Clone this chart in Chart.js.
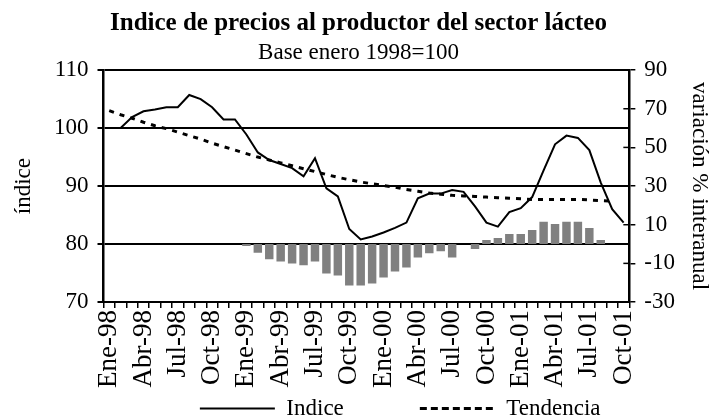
<!DOCTYPE html>
<html>
<head>
<meta charset="utf-8">
<script src="https://cdn.jsdelivr.net/npm/chart.js@4"></script>
<style>
  body { margin: 0; background: #fff; }
  #wrap { width: 711px; height: 417px; }
</style>
</head>
<body>
<div id="wrap"><canvas id="chart" width="711" height="417"></canvas></div>
<script>
// months Ene-98 .. Oct-01
const months = ["Ene", "Feb", "Mar", "Abr", "May", "Jun", "Jul", "Ago", "Sep", "Oct", "Nov", "Dic"];
const years = ["98", "99", "00", "01"];
const labels = [];
for (let y = 0; y < years.length; y++) {
  for (let m = 0; m < 12; m++) {
    if (y === 3 && m > 9) break;
    labels.push(months[m] + "-" + years[y]);
  }
}

// indice (left axis)
const indice = [
  100.0, 100.0, 101.9, 102.9, 103.2, 103.6, 103.6, 105.7, 105.0, 103.6, 101.5, 101.5,
  98.9, 95.8, 94.5, 93.8, 93.1, 91.7, 94.8, 89.6, 88.2, 82.6, 80.8, 81.3,
  82.0, 82.8, 83.7, 87.9, 88.7, 88.7, 89.3, 89.0, 86.5, 83.7, 83.0, 85.5,
  86.2, 88.1, 92.7, 97.2, 98.7, 98.3, 96.2, 90.6, 86.0, 83.7
];

// tendencia (left axis)
const tendencia = [
  103.0, 102.3, 101.7, 101.0, 100.4, 99.9, 99.3, 98.7, 98.1, 97.4, 96.8, 96.2,
  95.6, 95.0, 94.5, 94.0, 93.5, 93.0, 92.5, 92.0, 91.5, 91.1, 90.7, 90.4,
  90.1, 89.8, 89.4, 89.1, 88.8, 88.6, 88.4, 88.3, 88.2, 88.1, 88.0, 87.9,
  87.8, 87.7, 87.7, 87.7, 87.7, 87.7, 87.6, 87.5, 87.4, null
];

// variacion % interanual (right axis)
const variacion = [
  null, null, null, null, null, null, null, null, null, null, null, null,
  -1.0, -4.5, -7.9, -9.0, -10.0, -11.0, -9.0, -15.2, -16.3, -21.5, -21.5, -20.4,
  -17.3, -14.2, -12.1, -6.9, -4.8, -3.7, -6.9, 0.0, -2.6, 2.1, 3.1, 5.2,
  5.2, 7.3, 11.5, 10.4, 11.5, 11.5, 8.3, 2.1, null, null
];

const serif = "'Liberation Serif', 'Times New Roman', serif";

// short tick marks inside the plot on the right axis
const innerTicks = {
  id: "innerTicks",
  afterDraw(chart) {
    const s = chart.scales.y2;
    const c = chart.ctx;
    c.save();
    c.strokeStyle = "#000";
    c.lineWidth = 1.5;
    s.ticks.forEach((t) => {
      const py = s.getPixelForValue(t.value);
      c.beginPath();
      c.moveTo(s.left - 6, py);
      c.lineTo(s.left, py);
      c.stroke();
    });
    c.restore();
  },
};

const ctx = document.getElementById("chart").getContext("2d");
new Chart(ctx, {
  data: {
    labels: labels,
    datasets: [
      {
        type: "line",
        label: "Indice",
        data: indice,
        yAxisID: "y",
        borderColor: "#000",
        backgroundColor: "transparent",
        borderWidth: 2,
        pointRadius: 0,
        tension: 0,
        order: 1,
      },
      {
        type: "line",
        label: "Tendencia",
        data: tendencia,
        yAxisID: "y",
        borderColor: "#000",
        backgroundColor: "transparent",
        borderWidth: 3,
        borderDash: [5, 6],
        pointRadius: 0,
        tension: 0,
        order: 2,
      },
      {
        type: "bar",
        label: "variación",
        data: variacion,
        yAxisID: "y2",
        backgroundColor: "#808080",
        barPercentage: 0.74,
        categoryPercentage: 1,
        order: 3,
      },
    ],
  },
  options: {
    responsive: false,
    animation: false,
    layout: { padding: { left: 6, right: 0, top: 0, bottom: -13 } },
    plugins: {
      title: {
        display: true,
        text: "Indice de precios al productor del sector lácteo",
        color: "#000",
        font: { family: serif, size: 25, weight: "bold", lineHeight: 1.2 },
        padding: { top: 9, bottom: 0 },
      },
      subtitle: {
        display: true,
        text: "Base enero 1998=100",
        color: "#000",
        font: { family: serif, size: 23, lineHeight: 1.2 },
        padding: { top: 0, bottom: 3.5 },
      },
      legend: {
        position: "bottom",
        align: "end",
        labels: {
          color: "#000",
          font: { family: serif, size: 23, lineHeight: 1 },
          boxWidth: 75,
          boxHeight: 0,
          padding: 7,
          // trailing spaces keep the two entries where the original puts them
          generateLabels(chart) {
            const items = Chart.defaults.plugins.legend.labels.generateLabels(chart);
            return items
              .filter((it) => it.datasetIndex < 2)
              .map((it) => {
                if (it.datasetIndex === 0) it.text = it.text + " ".repeat(12);
                if (it.datasetIndex === 1) it.text = it.text + " ".repeat(18);
                return it;
              });
          },
        },
      },
      tooltip: { enabled: false },
    },
    scales: {
      x: {
        offset: true,
        grid: {
          offset: true,
          drawOnChartArea: false,
          color: "#000",
          tickLength: 6,
          lineWidth: 1.5,
        },
        border: { color: "#000", width: 2 },
        ticks: {
          color: "#000",
          font: { family: serif, size: 27 },
          autoSkip: false,
          maxRotation: 90,
          minRotation: 90,
          padding: 2,
          callback: function (val, idx) {
            return idx % 3 === 0 ? labels[idx] : "";
          },
        },
      },
      y: {
        position: "left",
        min: 70,
        max: 110,
        ticks: { stepSize: 10, color: "#000", font: { family: serif, size: 23 }, padding: 9 },
        grid: { color: "#000", lineWidth: 2, tickLength: 6 },
        border: { color: "#000", width: 2.5 },
        title: {
          display: true,
          text: "índice",
          color: "#000",
          font: { family: serif, size: 23, lineHeight: 1 },
          padding: { top: 6, bottom: 10 },
        },
      },
      y2: {
        position: "right",
        min: -30,
        max: 90,
        ticks: { stepSize: 20, color: "#000", font: { family: serif, size: 23 }, padding: 9 },
        grid: { drawOnChartArea: false, color: "#000", lineWidth: 1.5, tickLength: 6 },
        border: { color: "#000", width: 2.5 },
        title: {
          display: true,
          text: "variación % interanual",
          color: "#000",
          font: { family: serif, size: 23, lineHeight: 1 },
          padding: { top: 0, bottom: 4 },
        },
      },
    },
  },
  plugins: [innerTicks],
});
</script>
</body>
</html>
